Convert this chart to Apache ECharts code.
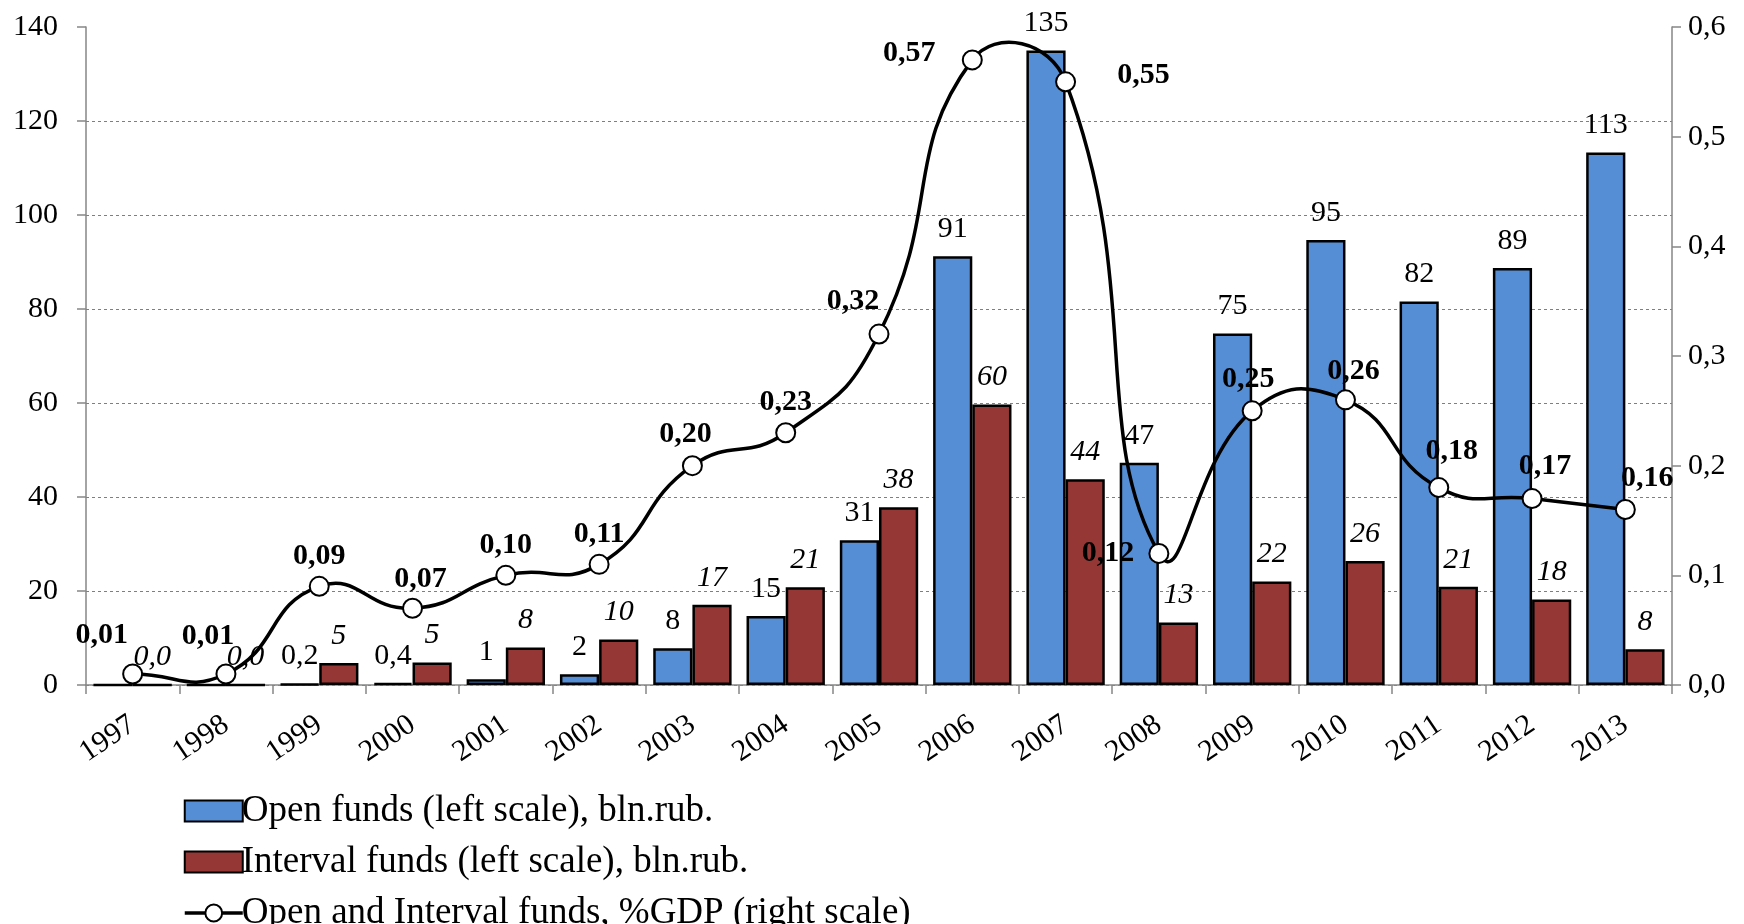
<!DOCTYPE html>
<html>
<head>
<meta charset="utf-8">
<style>
html,body{margin:0;padding:0;background:#fff;}
#chart{width:1744px;height:924px;}
</style>
<script src="https://cdn.jsdelivr.net/npm/echarts@6/dist/echarts.min.js"></script>
</head>
<body>
<div id="chart"></div>
<script>
const years = ['1997','1998','1999','2000','2001','2002','2003','2004','2005','2006','2007','2008','2009','2010','2011','2012','2013'];
const openFunds = [0, 0, 0.2, 0.4, 1.2, 2.3, 7.8, 14.7, 30.8, 91.2, 135, 47.3, 74.8, 94.7, 81.6, 88.7, 113.3];
const intervalFunds = [0.02, 0.02, 4.7, 4.8, 8.0, 9.7, 17.1, 20.8, 37.8, 59.7, 43.8, 13.3, 22.0, 26.4, 20.9, 18.2, 7.6];
const gdpShare = [0.01, 0.01, 0.09, 0.07, 0.10, 0.11, 0.20, 0.23, 0.32, 0.57, 0.55, 0.12, 0.25, 0.26, 0.18, 0.17, 0.16];
const leftTicks = [0, 140, 20];
const rightTicks = [0, 0.6, 0.1];

const NAME_OPEN = 'Open funds (left scale), bln.rub.';
const NAME_INT = 'Interval funds (left scale), bln.rub.';
const NAME_GDP = 'Open and Interval funds, %GDP (right scale)';

const FONT = '"Liberation Serif", "Times New Roman", serif';
const comma = s => s.replace('.', ',');
const barLabelFmt = p => {
  const v = p.value;
  if (v === 0) return '';
  return v < 1 ? comma(v.toFixed(1)) : String(Math.round(v));
};

// hand-placed %GDP labels (as in the original)
const lineLabelOffsets = {0:[-31,-8],1:[-18,-7],3:[8,2],6:[-7,-1],8:[-26,-2],9:[-63,24],10:[78,24],11:[-51,30],12:[-4,-1],13:[8,2],14:[13,-6],15:[13,-2],16:[22,-1]};
const lineData = gdpShare.map((v, i) => ({
  value: v,
  label: { offset: lineLabelOffsets[i] || [0, 0] }
}));

// smooth curve (unconstrained bezier, like spreadsheet smoothing), drawn through axis coords
const SMOOTH = 0.5;
function renderCurve(params, api) {
  if (params.dataIndex !== 0) return null;
  const pts = gdpShare.map((v, i) => api.coord([i, v]));
  const n = pts.length;
  const cps = [];
  for (let i = 0; i < n; i++) {
    const p = pts[i], prev = pts[Math.max(i - 1, 0)], next = pts[Math.min(i + 1, n - 1)];
    const vx = next[0] - prev[0], vy = next[1] - prev[1];
    const l0 = Math.hypot(p[0] - prev[0], p[1] - prev[1]);
    const l1 = Math.hypot(next[0] - p[0], next[1] - p[1]);
    const r = (l0 + l1) ? l1 / (l0 + l1) : 0.5;
    cps.push([
      [p[0] - vx * SMOOTH * (1 - r), p[1] - vy * SMOOTH * (1 - r)],
      [p[0] + vx * SMOOTH * r, p[1] + vy * SMOOTH * r]
    ]);
  }
  const children = [];
  for (let i = 0; i < n - 1; i++) {
    children.push({
      type: 'bezierCurve',
      shape: {
        x1: pts[i][0], y1: pts[i][1],
        x2: pts[i + 1][0], y2: pts[i + 1][1],
        cpx1: cps[i][1][0], cpy1: cps[i][1][1],
        cpx2: cps[i + 1][0][0], cpy2: cps[i + 1][0][1]
      },
      style: { stroke: '#000', lineWidth: 3.5, fill: 'none', lineCap: 'round', lineJoin: 'round' }
    });
  }
  return { type: 'group', children: children };
}

const chart = echarts.init(document.getElementById('chart'), null, {renderer: 'canvas'});
chart.setOption({
  animation: false,
  textStyle: { fontFamily: FONT },
  grid: { left: 86, right: 72, top: 27, bottom: 239, containLabel: false },
  legend: {
    orient: 'vertical',
    left: 178,
    top: 786,
    height: 150,
    itemWidth: 58,
    itemHeight: 21,
    itemGap: 11,
    textStyle: { fontFamily: FONT, fontSize: 37, color: '#000', lineHeight: 40, padding: [0,0,0,-6] },
    data: [
      { name: NAME_OPEN, icon: 'rect' },
      { name: NAME_INT, icon: 'rect' },
      { name: NAME_GDP, lineStyle: { color: '#000', width: 3.5, opacity: 1 } }
    ]
  },
  xAxis: {
    type: 'category',
    data: years,
    boundaryGap: true,
    axisLine: { lineStyle: { color: '#868686', width: 1.5 } },
    axisTick: { show: true, length: 9, lineStyle: { color: '#868686', width: 1.5 } },
    axisLabel: { rotate: 34, fontSize: 30, color: '#000', fontFamily: FONT, margin: 37 }
  },
  yAxis: [{
    type: 'value',
    min: leftTicks[0], max: leftTicks[1], interval: leftTicks[2],
    axisLine: { show: true, lineStyle: { color: '#868686', width: 1.5 } },
    axisTick: { show: true, length: 9, lineStyle: { color: '#868686', width: 1.5 } },
    axisLabel: { fontSize: 30, color: '#000', fontFamily: FONT, margin: 28 },
    splitLine: { show: true, showMaxLine: false, lineStyle: { type: [3, 3], color: '#7f7f7f', width: 1 } }
  }, {
    type: 'value',
    min: rightTicks[0], max: rightTicks[1], interval: rightTicks[2],
    position: 'right',
    axisLine: { show: true, lineStyle: { color: '#868686', width: 1.5 } },
    axisTick: { show: true, length: 9, lineStyle: { color: '#868686', width: 1.5 } },
    axisLabel: { fontSize: 30, color: '#000', fontFamily: FONT, margin: 16, formatter: v => comma(v.toFixed(1)) },
    splitLine: { show: false }
  }],
  series: [{
    name: NAME_OPEN,
    type: 'bar',
    data: openFunds,
    barWidth: '42%',
    barGap: '0%',
    itemStyle: { color: '#558ED5', borderColor: '#000', borderWidth: 2.5 },
    label: { show: true, position: 'top', distance: 12, fontSize: 30, color: '#000', fontFamily: FONT, formatter: barLabelFmt }
  }, {
    name: NAME_INT,
    type: 'bar',
    data: intervalFunds,
    barWidth: '42%',
    barGap: '0%',
    itemStyle: { color: '#953735', borderColor: '#000', borderWidth: 2.5 },
    label: { show: true, position: 'top', distance: 12, fontSize: 30, fontStyle: 'italic', color: '#000', fontFamily: FONT, formatter: barLabelFmt }
  }, {
    name: 'curve',
    type: 'custom',
    yAxisIndex: 1,
    silent: true,
    z: 4,
    data: gdpShare.map((v, i) => [i, v]),
    encode: { x: 0, y: 1 },
    renderItem: renderCurve
  }, {
    name: NAME_GDP,
    type: 'line',
    yAxisIndex: 1,
    data: lineData,
    symbol: 'circle',
    symbolSize: 19,
    z: 5,
    lineStyle: { color: '#000', width: 3.5, opacity: 0 },
    itemStyle: { color: '#fff', borderColor: '#000', borderWidth: 2 },
    label: { show: true, position: 'top', distance: 5, fontSize: 30, fontWeight: 'bold', color: '#000', fontFamily: FONT, formatter: p => comma(p.value.toFixed(2)) }
  }]
});
</script>
</body>
</html>
